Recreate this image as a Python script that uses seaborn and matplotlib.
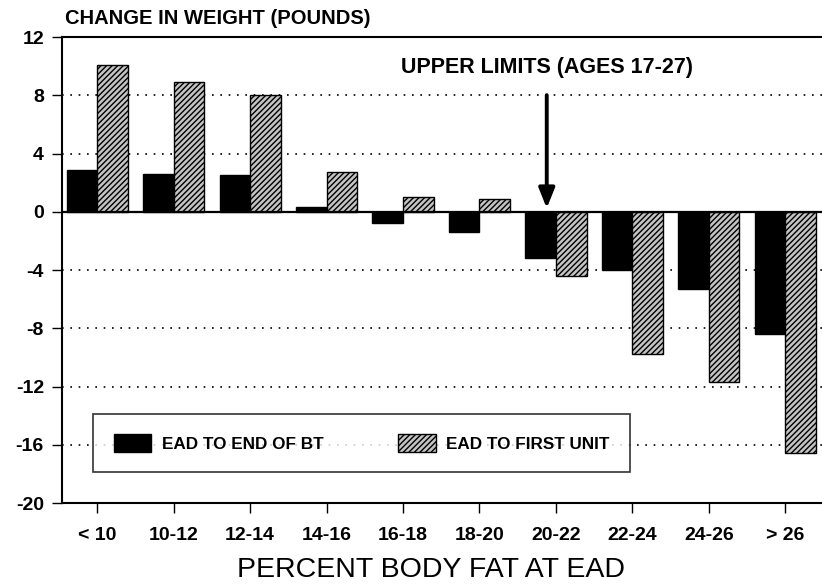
import matplotlib
matplotlib.use("Agg")
import matplotlib.pyplot as plt
import seaborn as sns
import pandas as pd

categories = ["< 10", "10-12", "12-14", "14-16", "16-18", "18-20", "20-22", "22-24", "24-26", "> 26"]
series_names = ["EAD TO END OF BT", "EAD TO FIRST UNIT"]
end_of_bt = [2.9, 2.6, 2.5, 0.3, -0.8, -1.4, -3.2, -4.0, -5.3, -8.4]
first_unit = [10.1, 8.9, 8.0, 2.7, 1.0, 0.9, -4.4, -9.8, -11.7, -16.6]
y_ticks = [-20, -16, -12, -8, -4, 0, 4, 8, 12]

sns.set_theme(style="white")
plt.rcParams["font.family"] = ["Liberation Sans", "DejaVu Sans"]
plt.rcParams["axes.unicode_minus"] = False
for k in ["text.color", "axes.labelcolor", "xtick.color", "ytick.color"]:
    plt.rcParams[k] = "black"

df = pd.DataFrame({
    "category": categories * 2,
    "value": end_of_bt + first_unit,
    "series": [series_names[0]] * len(categories) + [series_names[1]] * len(categories),
})

fig = plt.figure(figsize=(8.22, 5.85), dpi=100)
ax = fig.add_axes([62 / 822, 1 - 503 / 585, 760 / 822, 466 / 585])

sns.barplot(data=df, x="category", y="value", hue="series", order=categories,
            hue_order=series_names, palette=["black", "#c4c4c4"], width=0.8,
            edgecolor="black", linewidth=1.0, legend=False, ax=ax, zorder=3)

for p in ax.containers[1]:
    p.set_hatch("//////")

ax.set_ylim(-20, 12)
ax.set_xlim(-0.46, 9.48)
ax.set_yticks(y_ticks)
ax.set_yticklabels([str(v) for v in y_ticks], fontsize=14, fontweight="bold")
ax.set_xticks(range(len(categories)))
ax.set_xticklabels(categories, fontsize=14, fontweight="bold")
ax.tick_params(axis="both", which="both", direction="out", length=7, width=1, color="black",
               bottom=True, left=True)
ax.tick_params(axis="x", pad=10)
ax.tick_params(axis="y", pad=6)

for g in [8, 4, -4, -8, -12, -16]:
    ax.axhline(g, color="black", linestyle=(0, (1, 4)), linewidth=1.2, zorder=1)
ax.axhline(0, color="black", linewidth=1.6, zorder=4)

for side in ["left", "bottom", "top"]:
    ax.spines[side].set_visible(True)
    ax.spines[side].set_color("black")
    ax.spines[side].set_linewidth(1.5)
ax.spines["right"].set_visible(False)

ax.set_xlabel("PERCENT BODY FAT AT EAD", fontsize=20.5, labelpad=9)
ax.xaxis.set_label_coords(0.486, -0.115)
ax.set_ylabel("")
fig.text(65 / 822, 1 - 18 / 585, "CHANGE IN WEIGHT (POUNDS)", fontsize=14.5,
         fontweight="bold", ha="left", va="center")

ax.annotate("", xy=(5.88, 0.05), xytext=(5.88, 8.2),
            arrowprops=dict(arrowstyle="-|>,head_length=1.0,head_width=0.4",
                            color="black", lw=2.8), zorder=6)
ax.text(5.88, 9.9, "UPPER LIMITS (AGES 17-27)", fontsize=15.5, fontweight="bold",
        ha="center", va="center")

handles = [ax.containers[0][0], ax.containers[1][0]]
leg = ax.legend(handles, series_names, loc="lower left",
                bbox_to_anchor=(0.030, 0.048), ncol=2, frameon=True, fancybox=False,
                prop={"size": 12.3, "weight": "bold"}, handlelength=2.2, handleheight=1.2,
                columnspacing=4.4, borderpad=1.2, handletextpad=0.6)
leg.get_frame().set_edgecolor("black")
leg.get_frame().set_linewidth(1.2)
leg.set_zorder(7)

fig.savefig("out.png", dpi=100)
